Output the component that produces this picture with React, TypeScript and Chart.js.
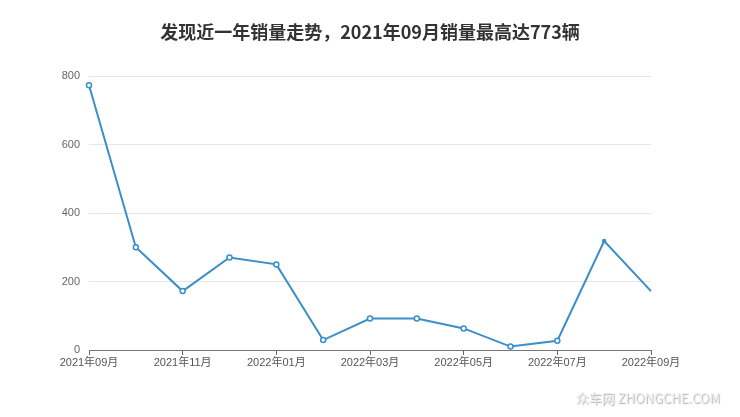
import React, { useEffect, useRef } from "react";
import { Chart, registerables } from "chart.js";

Chart.register(...registerables);

const categories = [
  "2021年09月", "2021年10月", "2021年11月", "2021年12月", "2022年01月", "2022年02月",
  "2022年03月", "2022年04月", "2022年05月", "2022年06月", "2022年07月", "2022年08月", "2022年09月",
];
const sales = [773, 300, 172, 270, 250, 29, 92, 92, 63, 10, 27, 318, 172];
const yTicks = [0, 200, 400, 600, 800];
const titleText = "发现近一年销量走势，2021年09月销量最高达773辆";
const watermark = "众车网 ZHONGCHE.COM";

const FONT = "'Liberation Sans', 'Noto Sans CJK SC', sans-serif";

const overlay = {
  id: "overlay",
  afterDraw(chart: any) {
    const ctx = chart.ctx;
    ctx.save();
    ctx.fillStyle = "#333";
    ctx.font = `bold 18px 'Noto Sans CJK SC', sans-serif`;
    ctx.textAlign = "center";
    ctx.textBaseline = "middle";
    ctx.fillText(titleText, 370, 32);
    ctx.font = `13px 'Noto Sans CJK SC', sans-serif`;
    ctx.textAlign = "right";
    ctx.shadowColor = "rgba(0,0,0,0.3)";
    ctx.shadowOffsetX = 1;
    ctx.shadowOffsetY = 1;
    ctx.shadowBlur = 1;
    ctx.fillStyle = "#ececec";
    ctx.fillText(watermark, 720, 398);
    ctx.restore();
  },
};

export default function App() {
  const ref = useRef<HTMLCanvasElement | null>(null);
  useEffect(() => {
    document.body.style.margin = "0";
    const chart = new Chart(ref.current as HTMLCanvasElement, {
      type: "line",
      data: {
        labels: categories,
        datasets: [
          {
            data: sales,
            borderColor: "#3a8fc8",
            borderWidth: 2,
            backgroundColor: "#ffffff",
            pointBackgroundColor: sales.map((_, i) => (i === sales.length - 2 ? "#3a8fc8" : "#ffffff")),
            pointBorderColor: "#3a8fc8",
            pointBorderWidth: 1.5,
            pointRadius: sales.map((_, i) => (i === sales.length - 1 ? 0 : i === sales.length - 2 ? 1.5 : 2.5)),
            tension: 0,
            fill: false,
          },
        ],
      },
      options: {
        animation: false,
        responsive: false,
        layout: { padding: { top: 76, right: 89, left: 0, bottom: 0 } },
        plugins: { legend: { display: false }, title: { display: false }, tooltip: { enabled: false } },
        scales: {
          x: {
            grid: {
              drawOnChartArea: false,
              drawTicks: true,
              tickLength: 5,
              tickColor: (c: any) => (c.index % 2 === 0 ? "#666" : "rgba(0,0,0,0)"),
            },
            border: { display: true, color: "#777", width: 1 },
            ticks: {
              autoSkip: false,
              maxRotation: 0,
              padding: 1,
              color: "#555",
              font: { size: 11, family: FONT },
              callback: (_v: any, i: number) => (i % 2 === 0 ? categories[i] : ""),
            },
            afterFit: (s: any) => {
              s.height = 67;
            },
          },
          y: {
            min: yTicks[0],
            max: yTicks[yTicks.length - 1],
            afterBuildTicks: (s: any) => {
              s.ticks = yTicks.map((v) => ({ value: v }));
            },
            grid: { color: "#e6e6e6", drawTicks: false, lineWidth: 1 },
            border: { display: false },
            ticks: { padding: 9, color: "#666", font: { size: 11, family: FONT } },
            afterFit: (s: any) => {
              s.width = 89;
            },
          },
        },
      },
      plugins: [overlay],
    });
    return () => chart.destroy();
  }, []);
  return (
    <div style={{ position: "absolute", left: 0, top: 0, width: 740, height: 417, background: "#fff" }}>
      <canvas ref={ref} width={740} height={417} style={{ width: 740, height: 417 }} />
    </div>
  );
}
